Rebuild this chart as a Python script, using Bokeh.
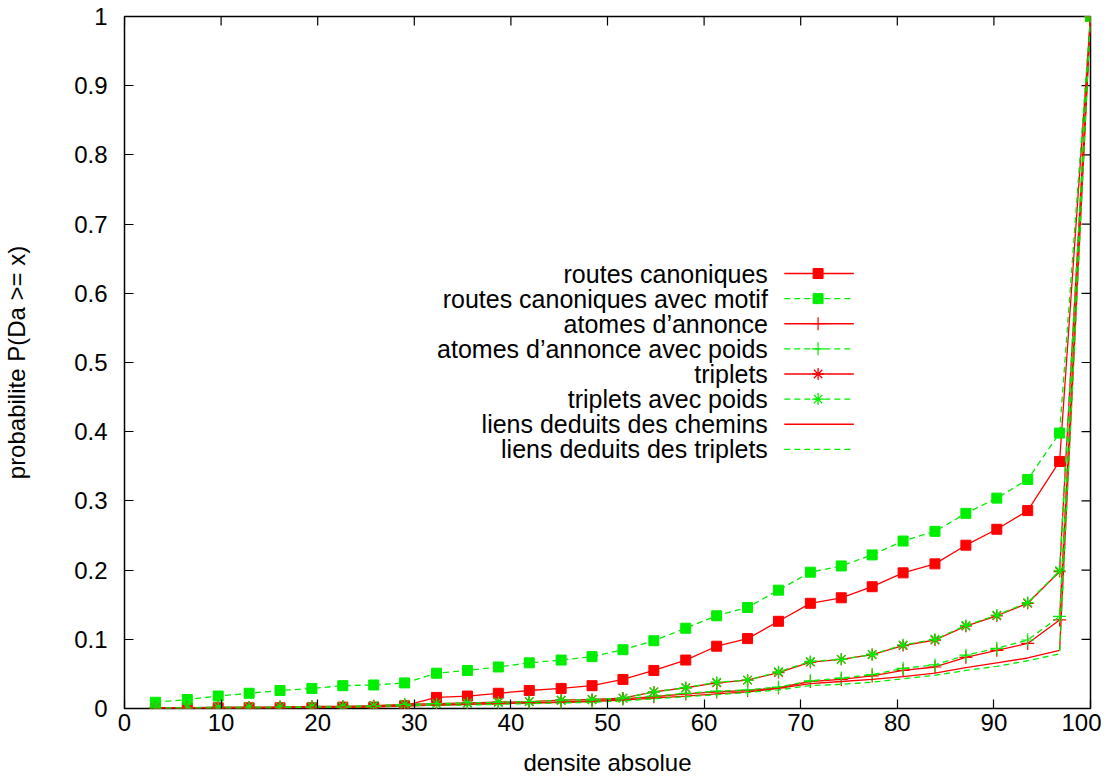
from bokeh.plotting import figure
from bokeh.models import Range1d, FixedTicker, CustomJSTickFormatter
from bokeh.core.properties import value
from bokeh.embed import file_html
from bokeh.resources import INLINE

# ---------------- data ----------------
x = [3.2, 6.5, 9.7, 12.9, 16.1, 19.4, 22.6, 25.8, 29.0, 32.3, 35.5, 38.7, 41.9, 45.2, 48.4,
     51.6, 54.8, 58.1, 61.3, 64.5, 67.7, 71.0, 74.2, 77.4, 80.6, 83.9, 87.1, 90.3, 93.5, 96.8, 100.0]

routes_canoniques = [0.001, 0.001, 0.001, 0.001, 0.001, 0.001, 0.002, 0.002, 0.004, 0.016, 0.018,
                     0.022, 0.026, 0.029, 0.033, 0.042, 0.055, 0.070, 0.090, 0.101, 0.126, 0.152,
                     0.160, 0.176, 0.196, 0.209, 0.236, 0.259, 0.286, 0.357, 1.0]
routes_canoniques_motif = [0.009, 0.013, 0.018, 0.022, 0.026, 0.029, 0.033, 0.034, 0.037, 0.051,
                           0.055, 0.060, 0.066, 0.070, 0.075, 0.085, 0.098, 0.116, 0.134, 0.146,
                           0.171, 0.197, 0.206, 0.222, 0.242, 0.256, 0.282, 0.304, 0.331, 0.398, 1.0]
atomes = [0.001, 0.001, 0.001, 0.001, 0.002, 0.002, 0.002, 0.003, 0.004, 0.005, 0.006, 0.007,
          0.008, 0.009, 0.011, 0.014, 0.017, 0.021, 0.024, 0.026, 0.030, 0.039, 0.042, 0.047,
          0.055, 0.060, 0.074, 0.084, 0.094, 0.128, 1.0]
atomes_poids = [0.001, 0.001, 0.001, 0.001, 0.002, 0.002, 0.002, 0.003, 0.004, 0.005, 0.006,
                0.007, 0.008, 0.009, 0.011, 0.014, 0.018, 0.022, 0.025, 0.027, 0.031, 0.040,
                0.044, 0.049, 0.058, 0.063, 0.077, 0.087, 0.099, 0.133, 1.0]
triplets = [0.001, 0.001, 0.002, 0.002, 0.002, 0.003, 0.003, 0.004, 0.006, 0.007, 0.008, 0.009,
            0.010, 0.012, 0.013, 0.015, 0.024, 0.030, 0.037, 0.041, 0.052, 0.067, 0.071, 0.078,
            0.091, 0.099, 0.119, 0.134, 0.152, 0.198, 1.0]
triplets_poids = [0.001, 0.001, 0.002, 0.002, 0.002, 0.003, 0.003, 0.004, 0.006, 0.007, 0.008,
                  0.009, 0.010, 0.012, 0.013, 0.015, 0.024, 0.030, 0.038, 0.041, 0.053, 0.068,
                  0.071, 0.078, 0.092, 0.100, 0.120, 0.135, 0.153, 0.199, 1.0]
liens_chemins = [0.001, 0.001, 0.001, 0.001, 0.001, 0.002, 0.002, 0.003, 0.004, 0.005, 0.006,
                 0.007, 0.008, 0.009, 0.010, 0.012, 0.015, 0.018, 0.021, 0.024, 0.029, 0.036,
                 0.039, 0.042, 0.046, 0.051, 0.059, 0.066, 0.073, 0.084, 1.0]
liens_triplets = [0.001, 0.001, 0.001, 0.001, 0.001, 0.002, 0.002, 0.003, 0.004, 0.005, 0.005,
                  0.006, 0.007, 0.008, 0.009, 0.011, 0.014, 0.017, 0.020, 0.023, 0.027, 0.033,
                  0.035, 0.038, 0.043, 0.048, 0.055, 0.061, 0.069, 0.079, 1.0]

labels = ["routes canoniques", "routes canoniques avec motif", "atomes d\u2019annonce",
          "atomes d\u2019annonce avec poids", "triplets", "triplets avec poids",
          "liens deduits des chemins", "liens deduits des triplets"]
series = [routes_canoniques, routes_canoniques_motif, atomes, atomes_poids,
          triplets, triplets_poids, liens_chemins, liens_triplets]

x_ticks = [0, 10, 20, 30, 40, 50, 60, 70, 80, 90, 100]
y_ticks = [0, 0.1, 0.2, 0.3, 0.4, 0.5, 0.6, 0.7, 0.8, 0.9, 1]

# ---------------- styles ----------------
RED = "#ff0000"
GREEN = "#00ee00"
styles = [
    (RED, "solid", "square"),
    (GREEN, "6 4", "square"),
    (RED, "solid", "cross"),
    (GREEN, "6 4", "cross"),
    (RED, "solid", "asterisk"),
    (GREEN, "6 4", "asterisk"),
    (RED, "solid", None),
    (GREEN, "6 4", None),
]
FONT = "Liberation Sans"
XMIN, XMAX, YMIN, YMAX = 0, 100, 0, 1

p = figure(width=1101, height=778, output_backend="svg", toolbar_location=None,
           x_range=Range1d(XMIN, XMAX), y_range=Range1d(YMIN, YMAX),
           min_border_left=121, min_border_right=11, min_border_top=16, min_border_bottom=58)
p.xgrid.visible = False
p.ygrid.visible = False
p.outline_line_color = "#000000"
p.outline_line_width = 1.5
p.background_fill_color = "white"
p.border_fill_color = "white"

fmt = CustomJSTickFormatter(code="return tick.toFixed(1).replace(/\\.0$/, '');")

for ax in (p.xaxis[0], p.yaxis[0]):
    ax.axis_line_color = None
    ax.major_tick_in = 9
    ax.major_tick_out = 0
    ax.minor_tick_line_color = None
    ax.major_tick_line_color = "#000000"
    ax.major_tick_line_width = 1.2
    ax.major_label_text_font = FONT
    ax.major_label_text_font_size = "24px"
    ax.major_label_text_color = "#000000"
    ax.axis_label_text_font = FONT
    ax.axis_label_text_font_size = "24px"
    ax.axis_label_text_font_style = "normal"
    ax.axis_label_text_color = "#000000"

p.xaxis.ticker = FixedTicker(ticks=x_ticks)
p.yaxis.ticker = FixedTicker(ticks=y_ticks)
p.yaxis.formatter = fmt
p.xaxis.axis_label = "densite absolue"
p.yaxis.axis_label = "probabilite P(Da >= x)"
p.xaxis.major_label_standoff = 5
p.xaxis.axis_label_standoff = 15
p.yaxis.major_label_standoff = 17
p.yaxis.axis_label_standoff = 41

# mirrored tick marks on the top and right borders (gnuplot style)
tick_dx = 0.93   # ~9 px in x data units
tick_dy = 0.013  # ~9 px in y data units
p.segment(x0=x_ticks, y0=[YMAX] * len(x_ticks), x1=x_ticks, y1=[YMAX - tick_dy] * len(x_ticks),
          line_color="#000000", line_width=1.2)
p.segment(x0=[XMAX] * len(y_ticks), y0=y_ticks, x1=[XMAX - tick_dx] * len(y_ticks), y1=y_ticks,
          line_color="#000000", line_width=1.2)

# ---------------- data series ----------------
for vals, (col, dash, mk) in zip(series, styles):
    p.line(x, vals, line_color=col, line_width=1.3, line_dash=dash)
    if mk == "square":
        p.scatter(x, vals, marker="square", size=10, fill_color=col, line_color=col)
    elif mk == "cross":
        p.scatter(x, vals, marker="cross", size=13, line_color=col, line_width=1.2)
    elif mk == "asterisk":
        p.scatter(x, vals, marker="asterisk", size=12, line_color=col, line_width=1.3)

# ---------------- gnuplot-style key ----------------
key_text_x = 66.6
key_x0, key_x1, key_xm = 68.3, 75.5, 71.8
key_y0, key_dy = 0.6286, 0.0363
for i, (lab, (col, dash, mk)) in enumerate(zip(labels, styles)):
    yy = key_y0 - i * key_dy
    p.text(x=[key_text_x], y=[yy], text=[lab], text_align="right", text_baseline="middle",
           text_font=value(FONT), text_font_size="25px", text_color="#000000")
    p.line([key_x0, key_x1], [yy, yy], line_color=col, line_width=1.3, line_dash=dash)
    if mk == "square":
        p.scatter([key_xm], [yy], marker="square", size=10, fill_color=col, line_color=col)
    elif mk == "cross":
        p.scatter([key_xm], [yy], marker="cross", size=13, line_color=col, line_width=1.2)
    elif mk == "asterisk":
        p.scatter([key_xm], [yy], marker="asterisk", size=12, line_color=col, line_width=1.3)

open("out.html", "w").write(file_html(p, INLINE))
